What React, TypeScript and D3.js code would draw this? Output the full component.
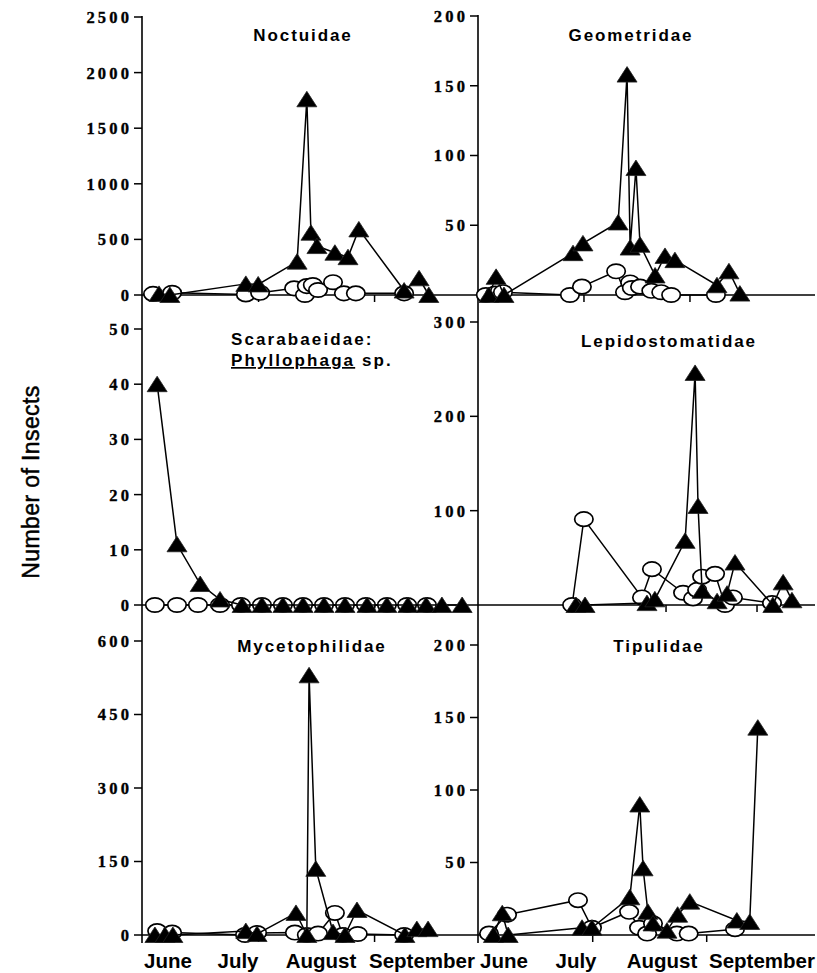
import React from "react";
import * as d3 from "d3";

// ---------------- DATA (day = days after 1 June, value = number of insects) ----------------
type Pt = [number, number];

const noctuidaeTicks = [0, 500, 1000, 1500, 2000, 2500];
const geometridaeTicks = [50, 100, 150, 200];
const scarabTicks = [0, 10, 20, 30, 40, 50];
const lepidoTicks = [100, 200, 300];
const mycetoTicks = [0, 150, 300, 450, 600];
const tipulidaeTicks = [50, 100, 150, 200];

const monthLabels = ["June", "July", "August", "September"];

const noctuidaeTri: Pt[] = [
  [3.4, 10], [6.3, 0], [26.6, 100], [29.9, 95], [40.3, 300], [42.9, 1760], [44.0, 560],
  [45.6, 440], [50.4, 380], [53.9, 340], [56.8, 590], [68.9, 40], [72.9, 150], [75.5, 0],
];
const noctuidaeCirc: Pt[] = [
  [1.8, 10], [6.9, 20], [26.6, 5], [30.4, 20], [39.5, 60], [42.4, 0], [42.9, 80], [44.5, 90],
  [45.9, 45], [49.9, 115], [52.8, 15], [56.0, 15], [68.9, 15],
];

const geometridaeTri: Pt[] = [
  [2.2, 0], [4.3, 13], [6.6, 0], [26.8, 30], [29.7, 37], [40.0, 52], [42.6, 158], [43.5, 34],
  [45.2, 91], [46.4, 36], [50.8, 14], [53.7, 28], [56.6, 25], [68.9, 7], [72.4, 17], [75.6, 1],
];
const geometridaeCirc: Pt[] = [
  [1.3, 0], [4.0, 1], [6.3, 2], [25.9, 0], [29.4, 6], [39.4, 17], [42.0, 2], [43.5, 9],
  [44.0, 5], [46.4, 6], [49.7, 3], [52.6, 2], [55.5, 0], [68.6, 0],
];

const scarabTri: Pt[] = [
  [2.9, 40], [8.2, 11], [14.4, 3.8], [19.7, 1], [25.6, 0], [30.9, 0], [36.5, 0], [41.9, 0],
  [47.5, 0], [53.1, 0], [59.0, 0], [64.3, 0], [69.9, 0], [74.8, 0], [79.0, 0], [84.4, 0],
];
const scarabCirc: Pt[] = [
  [2.3, 0], [8.2, 0], [13.8, 0], [19.7, 0], [25.3, 0], [30.9, 0], [36.5, 0], [41.9, 0],
  [47.5, 0], [53.1, 0], [58.7, 0], [64.3, 0], [69.7, 0], [75.0, 0],
];

const lepidoTri: Pt[] = [
  [30.3, 0], [33.4, 0], [54.5, 2], [57.2, 6], [67.5, 68], [70.9, 246], [71.9, 105], [73.3, 15],
  [78.4, 4], [81.8, 12], [84.5, 45], [97.4, 0], [100.9, 24], [103.9, 5],
];
const lepidoCirc: Pt[] = [
  [29.0, 0], [33.0, 91], [52.8, 8], [56.2, 38], [66.8, 13], [70.2, 7], [71.6, 16], [73.3, 30],
  [77.7, 33], [81.1, 0], [83.8, 8], [97.1, 2],
];

const mycetoTri: Pt[] = [
  [2.3, 0], [5.0, 0], [7.1, 0], [26.6, 8], [29.6, 2], [40.0, 45], [42.9, 0], [43.5, 530],
  [45.3, 135], [49.9, 6], [53.1, 0], [56.3, 51], [69.1, 0], [72.3, 12], [75.3, 12],
];
const mycetoCirc: Pt[] = [
  [2.9, 8], [6.9, 5], [26.4, 0], [29.6, 4], [39.7, 5], [42.9, 0], [45.9, 3], [50.4, 45],
  [52.5, 0], [56.5, 2], [68.9, 0],
];

const tipulidaeTri: Pt[] = [
  [3.0, 0], [5.4, 15], [7.0, 0], [27.1, 5], [29.8, 5], [40.1, 26], [42.8, 90], [43.7, 46],
  [45.0, 16], [46.4, 8], [50.2, 3], [53.1, 14], [56.4, 23], [69.2, 10], [72.7, 9], [74.9, 143],
];
const tipulidaeCirc: Pt[] = [
  [1.8, 1], [6.7, 14], [26.0, 24], [29.8, 5], [39.9, 16], [42.6, 5], [44.8, 1], [46.4, 8],
  [52.9, 1], [56.1, 1], [68.7, 4],
];

// x-axis tick dates per panel (days after 1 June)
const julAugTicks = [30, 61];
const augSepTicks = [61, 92];

// ---------------- LAYOUT ----------------
const LEFT_AXIS = 142;
const RIGHT_AXIS = 478;
const RIGHT_END = 815;

type PanelCfg = {
  title: string;
  ticks: number[];
  max: number;
  yZero: number;
  yMax: number;
  day0: number;
  k: number;
  axisX: number;
  endX: number;
  xTicks: number[];
  tri: Pt[];
  circ: Pt[];
  titleX: number;
  titleY: number;
};

const panels: PanelCfg[] = [
  { title: "Noctuidae", ticks: noctuidaeTicks, max: 2500, yZero: 295, yMax: 17,
    day0: 146.3, k: 3.742, axisX: LEFT_AXIS, endX: RIGHT_AXIS, xTicks: julAugTicks,
    tri: noctuidaeTri, circ: noctuidaeCirc, titleX: 303, titleY: 41 },
  { title: "Geometridae", ticks: geometridaeTicks, max: 200, yZero: 295, yMax: 16,
    day0: 481.4, k: 3.419, axisX: RIGHT_AXIS, endX: RIGHT_END, xTicks: julAugTicks,
    tri: geometridaeTri, circ: geometridaeCirc, titleX: 631, titleY: 41 },
  { title: "", ticks: scarabTicks, max: 50, yZero: 605, yMax: 329,
    day0: 146.3, k: 3.742, axisX: LEFT_AXIS, endX: RIGHT_AXIS, xTicks: julAugTicks,
    tri: scarabTri, circ: scarabCirc, titleX: 231, titleY: 345 },
  { title: "Lepidostomatidae", ticks: lepidoTicks, max: 300, yZero: 605, yMax: 322,
    day0: 487, k: 2.935, axisX: RIGHT_AXIS, endX: RIGHT_END, xTicks: augSepTicks,
    tri: lepidoTri, circ: lepidoCirc, titleX: 669, titleY: 347 },
  { title: "Mycetophilidae", ticks: mycetoTicks, max: 600, yZero: 935, yMax: 641,
    day0: 146.3, k: 3.742, axisX: LEFT_AXIS, endX: RIGHT_AXIS, xTicks: julAugTicks,
    tri: mycetoTri, circ: mycetoCirc, titleX: 312, titleY: 652 },
  { title: "Tipulidae", ticks: tipulidaeTicks, max: 200, yZero: 935, yMax: 645,
    day0: 482.4, k: 3.677, axisX: RIGHT_AXIS, endX: RIGHT_END, xTicks: julAugTicks,
    tri: tipulidaeTri, circ: tipulidaeCirc, titleX: 659, titleY: 652 },
];

const NUM_FONT = "'Liberation Serif', 'DejaVu Serif', 'Times New Roman', serif";
const SANS = "'Liberation Sans', Arial, Helvetica, sans-serif";
const TRI = "M0,-8L10,7.5L-10,7.5Z";

function Panel({ p }: { p: PanelCfg }) {
  const x = d3.scaleLinear().domain([0, 100]).range([p.day0, p.day0 + 100 * p.k]);
  const y = d3.scaleLinear().domain([0, p.max]).range([p.yZero, p.yMax]);
  const line = d3.line<Pt>().x((d) => x(d[0])).y((d) => y(d[1]));
  const ls = 3.2;
  return (
    <g>
      <line x1={p.axisX} x2={p.endX} y1={y(0)} y2={y(0)} stroke="#000" strokeWidth={1.6} />
      {p.xTicks.map((t) => (
        <line key={t} x1={x(t)} x2={x(t)} y1={y(0)} y2={y(0) + 7} stroke="#000" strokeWidth={1.5} />
      ))}
      {p.ticks.map((t) => (
        <g key={t}>
          <line x1={p.axisX - 8} x2={p.axisX} y1={y(t)} y2={y(t)} stroke="#000" strokeWidth={1.5} />
          <text
            x={p.axisX - 13 + ls}
            y={y(t)}
            dy="0.36em"
            textAnchor="end"
            fontFamily={NUM_FONT}
            fontWeight="bold"
            fontSize={16.5}
            letterSpacing={ls}
            stroke="#000"
            strokeWidth={0.35}
          >
            {t}
          </text>
        </g>
      ))}
      {p.title ? (
        <text x={p.titleX} y={p.titleY} textAnchor="middle" fontFamily={SANS} fontWeight="bold"
          fontSize={17} letterSpacing={1.9}>
          {p.title}
        </text>
      ) : (
        <g fontFamily={SANS} fontWeight="bold" fontSize={17} letterSpacing={2.1}>
          <text x={p.titleX} y={p.titleY}>Scarabaeidae:</text>
          <text x={p.titleX} y={p.titleY + 21}>
            <tspan textDecoration="underline">Phyllophaga</tspan>
            <tspan> sp.</tspan>
          </text>
        </g>
      )}
      <path d={line(p.circ) || ""} fill="none" stroke="#000" strokeWidth={1.5} />
      {p.circ.map((d, i) => (
        <ellipse key={"c" + i} cx={x(d[0])} cy={y(d[1])} rx={9.2} ry={7.2} fill="#fff" stroke="#000" strokeWidth={1.7} />
      ))}
      <path d={line(p.tri) || ""} fill="none" stroke="#000" strokeWidth={1.5} />
      {p.tri.map((d, i) => (
        <path key={"t" + i} d={TRI} transform={`translate(${x(d[0])},${y(d[1])})`} fill="#000" stroke="#222" strokeWidth={0.8} />
      ))}
    </g>
  );
}

export default function App() {
  const leftMonthX = [168, 238, 321, 422];
  const rightMonthX = [504, 576, 662, 762];
  return (
    <svg width={817} height={973} style={{ position: "absolute", left: 0, top: 0, background: "#fff" }}>
      <rect width={817} height={973} fill="#fff" />
      <line x1={LEFT_AXIS} x2={LEFT_AXIS} y1={16} y2={943} stroke="#000" strokeWidth={1.6} />
      <line x1={RIGHT_AXIS} x2={RIGHT_AXIS} y1={15} y2={943} stroke="#000" strokeWidth={1.6} />
      {panels.map((p, i) => (
        <Panel key={i} p={p} />
      ))}
      {monthLabels.map((m, i) => (
        <text key={"l" + m} x={leftMonthX[i]} y={968} textAnchor="middle" fontFamily={SANS} fontWeight="bold" fontSize={20.5}>
          {m}
        </text>
      ))}
      {monthLabels.map((m, i) => (
        <text key={"r" + m} x={rightMonthX[i]} y={968} textAnchor="middle" fontFamily={SANS} fontWeight="bold" fontSize={20.5}>
          {m}
        </text>
      ))}
      <text
        transform="translate(39,482) rotate(-90)"
        textAnchor="middle"
        fontFamily={SANS}
        fontSize={23}
        letterSpacing={0.4}
        stroke="#000"
        strokeWidth={0.5}
      >
        Number of Insects
      </text>
    </svg>
  );
}
